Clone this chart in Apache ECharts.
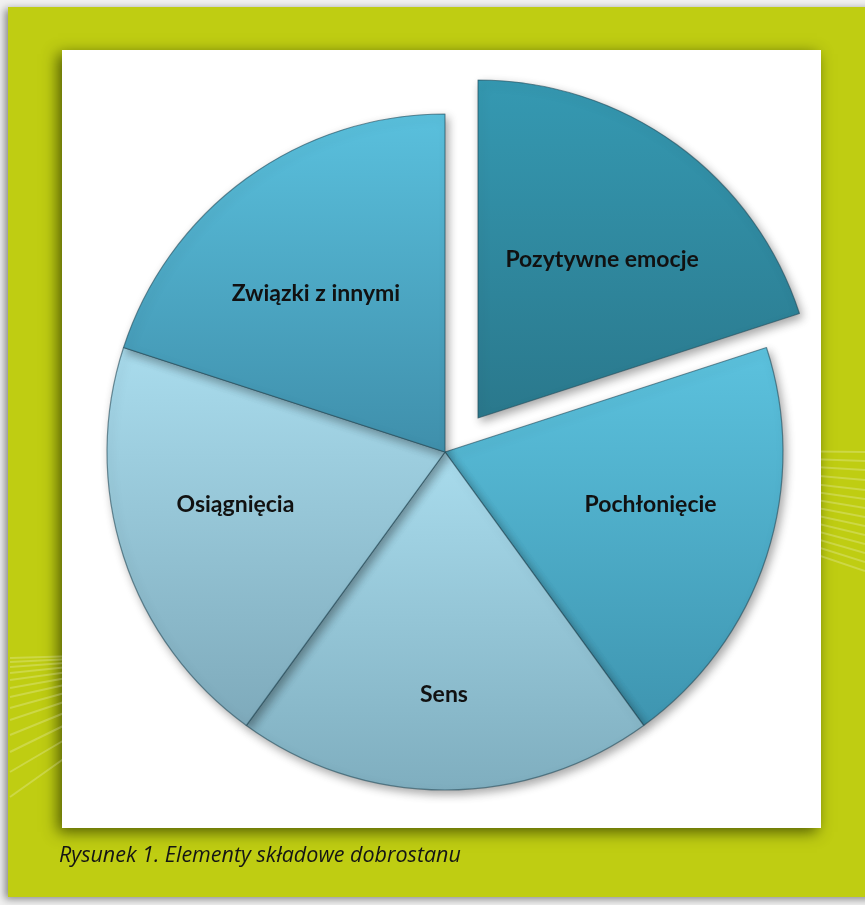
<!DOCTYPE html>
<html>
<head>
<meta charset="utf-8">
<script src="https://cdn.jsdelivr.net/npm/echarts@6/dist/echarts.min.js"></script>
<style>
html,body{margin:0;padding:0;background:#f1f1f1;}
#chart{width:865px;height:905px;}
</style>
</head>
<body>
<div id="chart"></div>
<script>
// ---- data ----
const categories = ['Pozytywne emocje', 'Pochłonięcie', 'Sens', 'Osiągnięcia', 'Związki z innymi'];
const values = [1, 1, 1, 1, 1];
const explodedIndex = 0;
const caption = 'Rysunek 1. Elementy składowe dobrostanu';

// ---- styling ----
const gradTop = ['#3599b2', '#5cc2de', '#a9dced', '#a9dced', '#5ac0dd'];
const gradBottom = ['#2a788c', '#3e95b0', '#7faebf', '#7eaabb', '#3f8fab'];
const labelShift = [[23, -19], [42, -1], [-1, 71], [-46, -1], [-28, -19]];

const chart = echarts.init(document.getElementById('chart'), null, {renderer: 'canvas'});

function sliceStyle(i) {
  return {
    color: new echarts.graphic.LinearGradient(0, 0, 0, 1, [
      {offset: 0, color: gradTop[i]},
      {offset: 1, color: gradBottom[i]}
    ]),
    borderColor: 'rgba(35,75,90,0.6)',
    borderWidth: 1.2,
    shadowBlur: 10,
    shadowOffsetX: 3,
    shadowOffsetY: 4,
    shadowColor: 'rgba(0,0,0,0.35)'
  };
}

function buildData(showExploded) {
  return categories.map((name, i) => {
    const visible = showExploded ? (i === explodedIndex) : (i !== explodedIndex);
    return {
      name: name,
      value: values[i],
      itemStyle: visible ? sliceStyle(i) : {opacity: 0, shadowBlur: 0},
      label: {show: visible},
      silent: !visible
    };
  });
}

// decorative background lines
const leftFanY = [658, 662, 667, 673, 680, 688, 697, 708, 720, 735, 752, 772, 797];
const rightFanY = [452, 461, 470, 480, 490, 499, 508, 517, 526, 535, 544, 553, 562, 571];
const deco = [];
leftFanY.forEach(y => deco.push({type: 'line', shape: {x1: 214, y1: 652, x2: 10, y2: y},
  style: {stroke: 'rgba(255,255,255,0.22)', lineWidth: 2}, silent: true}));
rightFanY.forEach(y => deco.push({type: 'line', shape: {x1: 502, y1: 448, x2: 865, y2: y},
  style: {stroke: 'rgba(255,255,255,0.22)', lineWidth: 2}, silent: true}));

const labelStyle = {
  show: true,
  position: 'inside',
  color: '#111',
  fontFamily: 'Lato',
  fontWeight: 'bold',
  fontSize: 23
};

const option = {
  animation: false,
  backgroundColor: '#f1f1f1',
  title: {
    text: caption,
    left: 59,
    top: 845,
    padding: 0,
    textStyle: {fontFamily: 'Open Sans', fontStyle: 'italic', fontWeight: 'normal', fontSize: 21.5, color: '#151515'}
  },
  graphic: [
    {type: 'rect', shape: {x: 8, y: 7, width: 870, height: 890}, z: -20,
      style: {fill: '#bfcd12', shadowBlur: 8, shadowOffsetX: -3, shadowOffsetY: 2, shadowColor: 'rgba(0,0,0,0.45)'}},
    {type: 'group', z: -15, children: deco},
    {type: 'rect', shape: {x: 62, y: 50, width: 759, height: 778}, z: -10,
      style: {fill: '#ffffff', shadowBlur: 14, shadowOffsetX: -4, shadowOffsetY: 4, shadowColor: 'rgba(60,70,0,0.85)'}}
  ],
  series: [
    {
      type: 'pie',
      center: [445, 452],
      radius: 338,
      startAngle: 90,
      clockwise: true,
      label: labelStyle,
      labelLine: {show: false},
      labelLayout: p => ({dx: labelShift[p.dataIndex][0], dy: labelShift[p.dataIndex][1]}),
      emphasis: {disabled: true},
      data: buildData(false)
    },
    {
      type: 'pie',
      center: [478, 418],
      radius: 338,
      startAngle: 90,
      clockwise: true,
      label: labelStyle,
      labelLine: {show: false},
      labelLayout: p => ({dx: labelShift[p.dataIndex][0], dy: labelShift[p.dataIndex][1]}),
      emphasis: {disabled: true},
      data: buildData(true)
    }
  ]
};
chart.setOption(option);
</script>
</body>
</html>
